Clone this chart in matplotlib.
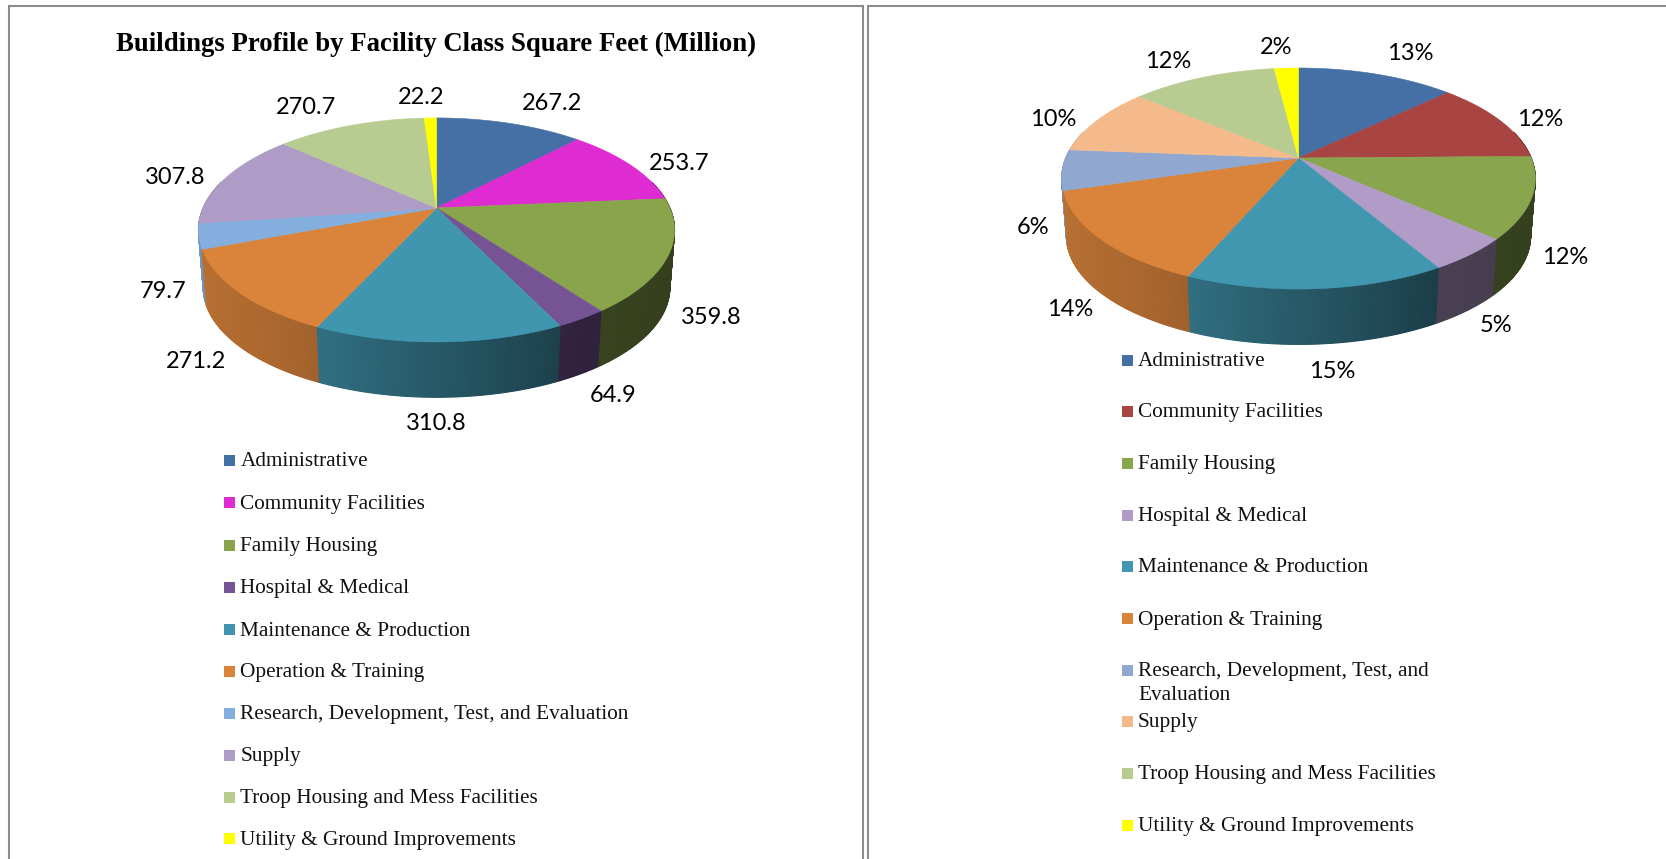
import numpy as np
import matplotlib
matplotlib.use("Agg")
import matplotlib.pyplot as plt
from matplotlib.patches import Rectangle

categories = ["Administrative", "Community Facilities", "Family Housing", "Hospital & Medical",
              "Maintenance & Production", "Operation & Training",
              "Research, Development, Test, and Evaluation", "Supply",
              "Troop Housing and Mess Facilities", "Utility & Ground Improvements"]
sqft_million = [267.2, 253.7, 359.8, 64.9, 310.8, 271.2, 79.7, 307.8, 270.7, 22.2]
percents = [13, 12, 12, 5, 15, 14, 6, 10, 12, 2]

colors_left = ["#4570A6", "#DE2BD2", "#8AA44C", "#755394", "#4196AF",
               "#D9833B", "#84AEDE", "#AF9CC6", "#B8CC92", "#FFFF00"]
colors_right = ["#4570A6", "#A84442", "#89A54E", "#B19CC8", "#4297B0",
                "#D9833B", "#90A8D0", "#F5BA8C", "#B8CC92", "#FFFF00"]

# label centres in pixels
label_pos_left = [(552, 104), (679, 163), (711, 318), (613, 396), (436, 424),
                  (196, 361), (163, 292), (175, 178), (306, 107), (421, 98)]
label_pos_right = [(1410, 54), (1540, 120), (1565, 257), (1496, 325), (1332, 372),
                   (1070, 309), (1033, 227), (1053, 120), (1168, 62), (1276, 48)]
legend_y_left = [460, 502, 545, 587, 629, 671, 713, 755, 797, 838]
legend_y_right = [360, 411, 463, 515, 566, 618, 670, 721, 773, 825]

FRAME = "#8C8C8C"
SERIF = "Liberation Serif"
SANS = "Lato"


def shade(c, f):
    rgb = np.array(matplotlib.colors.to_rgb(c))
    return tuple(rgb * f)


def pie3d(ax, values, colors, cx, cy, A, h, k, depth, s=0.98):
    # perspective view of a flat disc, clockwise from 12 o'clock
    vals = np.array(values, dtype=float)
    cum = np.concatenate([[0], np.cumsum(vals) / vals.sum()]) * 2 * np.pi

    def proj(t, drop=0.0, scale=1.0):
        u, v = np.sin(t), np.cos(t)
        d = 1 + k * v
        return cx + scale * A * u / d, cy + drop - scale * h * v / d

    strips = []
    for i in range(len(vals)):
        tt = np.arange(cum[i], cum[i + 1], np.radians(0.5))
        tt = np.append(tt, cum[i + 1])
        for a, b in zip(tt[:-1], tt[1:]):
            if np.cos((a + b) / 2) < 0.25:
                strips.append((a, b, colors[i]))
    strips.sort(key=lambda p: -np.cos((p[0] + p[1]) / 2))
    for a, b, c in strips:
        x0, y0 = proj(a)
        x1, y1 = proj(b)
        x2, y2 = proj(b, depth, s)
        x3, y3 = proj(a, depth, s)
        t = np.sin((a + b) / 2)
        f = np.interp(t, [-1, -0.5, 0.5, 1], [0.86, 0.77, 0.41, 0.38])
        col = shade(c, f)
        ax.fill([x0, x1, x2, x3], [y0, y1, y2, y3], color=col, lw=0.8, zorder=2)

    for i in range(len(vals)):
        tt = np.linspace(cum[i], cum[i + 1], 80)
        xs, ys = proj(tt)
        ax.fill(np.r_[cx, xs], np.r_[cy, ys], color=colors[i], lw=0.4, zorder=3)


def legend(ax, ys, colors, xm, size, fontsize, wrap=None):
    for name, y, c in zip(categories, ys, colors):
        ax.add_patch(Rectangle((xm, y - size / 2), size, size, color=c, lw=0, zorder=4))
        if wrap and name == wrap[0]:
            ax.text(xm + size + 5, y - 8, wrap[1], family=SERIF, fontsize=fontsize, va="top",
                    ha="left", linespacing=1.35, color="#111111")
        else:
            ax.text(xm + size + 5, y + 2, name, family=SERIF, fontsize=fontsize, va="center",
                    ha="left", color="#111111")


fig = plt.figure(figsize=(16.66, 8.59), dpi=100)
ax = fig.add_axes([0, 0, 1, 1])
ax.set_xlim(0, 1666)
ax.set_ylim(859, 0)
ax.axis("off")

# panel frames, open at the bottom; the right one runs off the page
ax.plot([9.5, 9.5, 863, 863], [859, 6, 6, 859], color=FRAME, lw=1.5, zorder=1, solid_joinstyle="miter")
ax.plot([868.5, 868.5, 1666], [859, 6, 6], color=FRAME, lw=1.5, zorder=1, solid_joinstyle="miter")

ax.text(436, 44, "Buildings Profile by Facility Class Square Feet (Million)",
        family=SERIF, fontweight="bold", fontsize=19.3, ha="center", va="center", color="#000000")

pie3d(ax, sqft_million, colors_left, 436.5, 208, 233.4, 107.7, 0.196, 58)
pie3d(ax, percents, colors_right, 1298.5, 158, 232.7, 106.7, 0.1855, 58)

for v, (x, y) in zip(sqft_million, label_pos_left):
    ax.text(x, y, f"{v}", family=SANS, fontsize=17, ha="center", va="center", color="#000000", zorder=5)
for p, (x, y) in zip(percents, label_pos_right):
    ax.text(x, y, f"{p}%", family=SANS, fontsize=17, ha="center", va="center", color="#000000", zorder=5)

legend(ax, legend_y_left, colors_left, 224.5, 11, 15.3)
legend(ax, legend_y_right, colors_right, 1122, 11, 15.3,
       wrap=(categories[6], "Research, Development, Test, and\nEvaluation"))

fig.savefig("out.png", dpi=100, facecolor="white")
